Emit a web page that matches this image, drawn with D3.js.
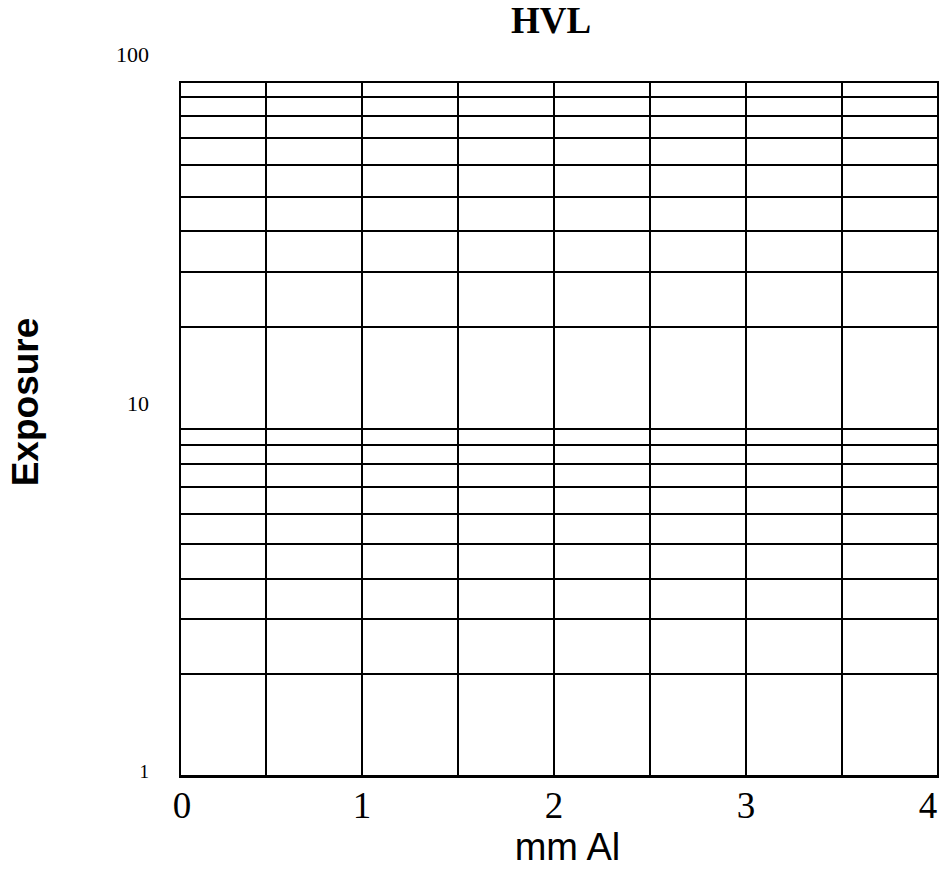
<!DOCTYPE html>
<html>
<head>
<meta charset="utf-8">
<script src="https://cdn.jsdelivr.net/npm/d3@7"></script>
<style>
    body { margin: 0; background: #fff; }
</style>
</head>
<body>
<svg id="hvl" width="942" height="869"></svg>
<script>
// grid values
var xGrid = [0.5, 1, 1.5, 2, 2.5, 3, 3.5, 4]
var xTicks = [0, 1, 2, 3, 4]
var yGrid = [1.97, 2.85, 3.7, 4.67, 5.7, 6.82, 7.96, 9.02, 10,
    19.7, 28.4, 37.2, 46.7, 57.5, 68.7, 79.7, 90.4, 100]
var yTicks = [1, 10, 100]

var svg = d3.select("#hvl")
var plotLeft = 180, plotRight = 938, plotTop = 81.7, plotBottom = 776.7

//scales
var x = d3.scaleLinear()
    .domain([0.052, 4])
    .range([plotLeft, plotRight])

var y = d3.scaleLog()
    .domain([1, 100])
    .range([plotBottom, plotTop])

//title
svg.append("text")
    .attr("x", 551)
    .attr("y", 33)
    .attr("text-anchor", "middle")
    .style("font-family", "'Liberation Serif', 'Times New Roman', serif")
    .style("font-weight", "bold")
    .style("font-size", "37px")
    .text("HVL")

var grid = svg.append("g")
    .style("stroke", "#000")
    .style("shape-rendering", "crispEdges")

//horizontal gridlines
grid.selectAll(".hl")
    .data(yGrid)
    .enter().append("line")
    .attr("class", "hl")
    .attr("x1", plotLeft)
    .attr("x2", plotRight)
    .attr("y1", function(d) { return y(d) })
    .attr("y2", function(d) { return y(d) })
    .style("stroke-width", 2)

//vertical gridlines
grid.selectAll(".vl")
    .data(xGrid)
    .enter().append("line")
    .attr("class", "vl")
    .attr("x1", function(d) { return x(d) })
    .attr("x2", function(d) { return x(d) })
    .attr("y1", plotTop - 1)
    .attr("y2", plotBottom)
    .style("stroke-width", 2)

//axis lines
grid.append("line")
    .attr("x1", plotLeft).attr("x2", plotLeft)
    .attr("y1", plotTop - 1).attr("y2", plotBottom + 1)
    .style("stroke-width", 2.5)
grid.append("line")
    .attr("x1", plotLeft - 1).attr("x2", plotRight + 1)
    .attr("y1", y(1)).attr("y2", y(1))
    .style("stroke-width", 2.5)

//x tick labels, kept inside the plot edges
svg.selectAll(".xt")
    .data(xTicks)
    .enter().append("text")
    .attr("class", "xt")
    .attr("x", function(d) { return Math.min(Math.max(x(d), plotLeft + 2), plotRight - 10) })
    .attr("y", 818)
    .attr("text-anchor", "middle")
    .style("font-family", "'Liberation Serif', 'Times New Roman', serif")
    .style("font-size", "37px")
    .text(function(d) { return d })

//y tick labels
var yShift = { 1: 1.3, 10: -18, 100: -19.7 }
var ySize = { 1: 19, 10: 22, 100: 22 }
svg.selectAll(".yt")
    .data(yTicks)
    .enter().append("text")
    .attr("class", "yt")
    .attr("x", 149)
    .attr("y", function(d) { return y(d) + yShift[d] })
    .attr("text-anchor", "end")
    .style("font-family", "'Liberation Serif', 'Times New Roman', serif")
    .style("font-size", function(d) { return ySize[d] + "px" })
    .text(function(d) { return d })

//axis titles
svg.append("text")
    .attr("x", 567.5)
    .attr("y", 860)
    .attr("text-anchor", "middle")
    .style("font-family", "'Liberation Sans', Arial, sans-serif")
    .style("font-size", "38px")
    .text("mm Al")

svg.append("text")
    .attr("transform", "translate(38,402) rotate(-90)")
    .attr("text-anchor", "middle")
    .style("font-family", "'Liberation Sans', Arial, sans-serif")
    .style("font-weight", "bold")
    .style("font-size", "37px")
    .text("Exposure")
</script>
</body>
</html>
